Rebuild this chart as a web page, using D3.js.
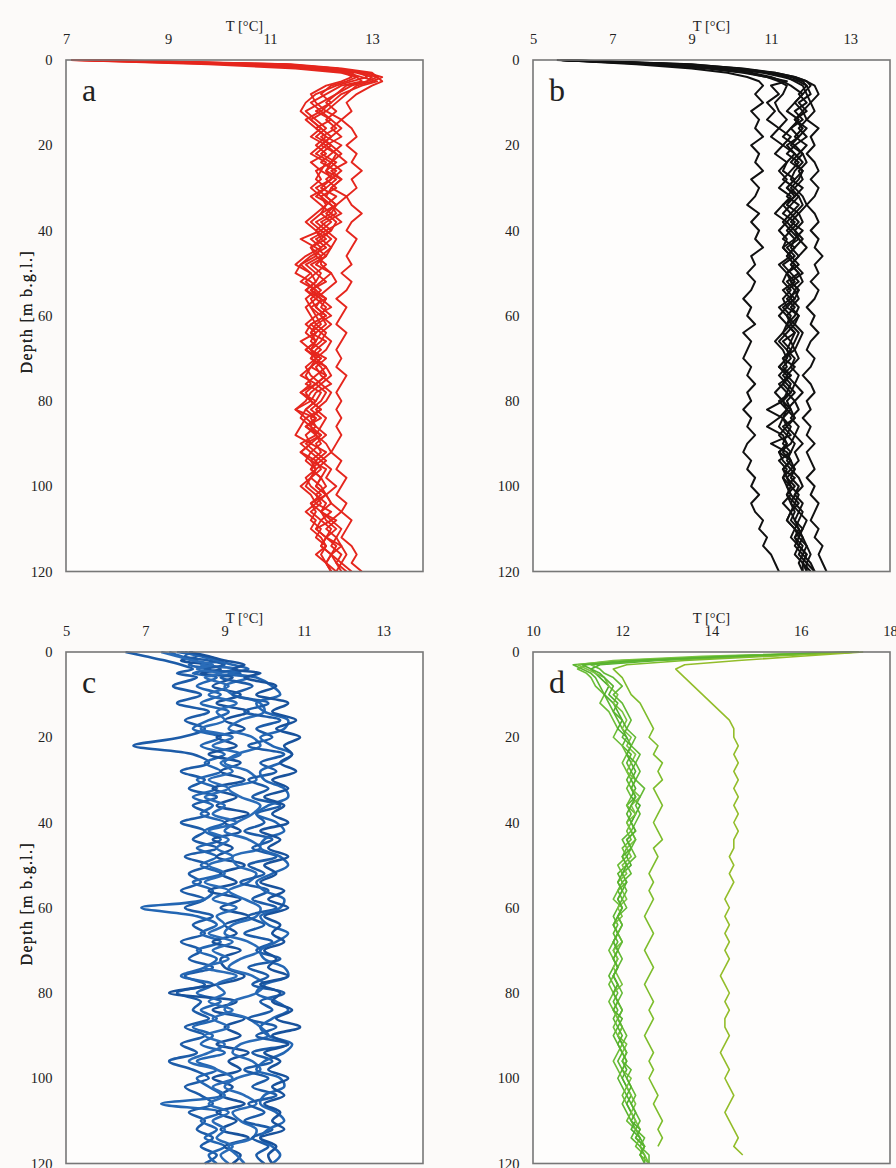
<!DOCTYPE html>
<html>
<head>
<meta charset="utf-8">
<script src="https://cdn.jsdelivr.net/npm/d3@7"></script>
<style>
  html, body { margin: 0; padding: 0; background: #fcfaf9; }
  svg { display: block; }
  text { font-family: "Liberation Serif", "Times New Roman", serif; fill: #222; }
</style>
</head>
<body>
<svg id="chart" width="896" height="1168"></svg>
<script>
// Shared depth grid [m below ground level]
const depths = [0, 1, 2, 3, 4, 5, 6,
  8, 10, 12, 14, 16, 18, 20, 22, 24, 26,
  28, 30, 32, 34, 36, 38, 40, 42, 44, 46,
  48, 50, 52, 54, 56, 58, 60, 62, 64, 66,
  68, 70, 72, 74, 76, 78, 80, 82, 84, 86,
  88, 90, 92, 94, 96, 98, 100, 102, 104, 106,
  108, 110, 112, 114, 116, 118, 120];

const depthTicks = [0, 20, 40, 60, 80, 100, 120];

// Temperature axes [°C]
const domainA = [7, 14];
const domainB = [5, 14];
const domainC = [5, 14];
const domainD = [10, 18];
const ticksA = [7, 9, 11, 13];
const ticksB = [5, 7, 9, 11, 13];
const ticksC = [5, 7, 9, 11, 13];
const ticksD = [10, 12, 14, 16, 18];

// Temperature profiles, one array per log, values at the depth grid
const profilesA = [
  [7.4, 10.8, 12.1, 12.7, 13.0, 12.9, 12.6,
   12.3, 12.0, 11.7, 11.9, 12.1, 11.9, 12.2, 12.0, 12.3, 12.1,
   12.2, 11.9, 12.1, 12.3, 12.0, 11.8, 12.0, 11.6, 11.9, 12.1,
   11.8, 12.0, 11.9, 11.7, 12.0, 11.9, 12.1, 11.8, 12.0, 11.9,
   11.7, 12.0, 11.8, 12.1, 11.9, 11.6, 11.8, 11.5, 11.9, 11.7,
   12.0, 11.8, 12.1, 11.9, 11.8, 12.0, 11.9, 12.1, 11.8, 12.0,
   12.2, 11.9, 12.1, 12.0, 12.2, 12.1, 12.3],
  [7.1, 10.2, 11.8, 12.5, 12.8, 13.1, 12.8,
   12.4, 12.2, 12.0, 12.2, 11.9, 12.1, 12.4, 12.2, 12.0, 12.3,
   12.1, 12.3, 12.0, 12.2, 12.4, 12.1, 11.9, 12.1, 11.8, 12.0,
   11.7, 11.9, 12.1, 11.8, 12.0, 12.2, 11.9, 12.0, 11.8, 12.1,
   11.9, 11.8, 12.1, 11.9, 11.7, 12.0, 11.9, 11.7, 11.9, 11.8,
   12.0, 11.7, 11.9, 12.1, 11.9, 11.8, 12.0, 12.1, 11.9, 12.2,
   12.0, 12.2, 12.1, 12.3, 12.2, 12.4, 12.3],
  [7.6, 11.3, 12.3, 12.8, 12.9, 12.6, 12.3,
   11.9, 11.7, 11.6, 11.8, 12.0, 12.2, 12.0, 11.8, 12.1, 12.0,
   12.3, 12.1, 11.9, 12.2, 12.3, 12.0, 12.2, 11.9, 12.1, 11.8,
   11.6, 11.5, 11.8, 12.0, 11.8, 11.9, 12.1, 11.8, 11.7, 11.9,
   11.8, 12.0, 11.8, 11.6, 11.9, 11.7, 11.8, 12.0, 11.7, 11.6,
   11.5, 11.8, 11.6, 11.9, 12.0, 11.8, 11.7, 11.9, 12.0, 11.8,
   12.0, 11.9, 12.1, 12.0, 12.2, 12.1, 12.2],
  [7.2, 10.5, 11.9, 12.9, 13.2, 13.0, 12.7,
   12.5, 12.3, 12.1, 12.4, 12.2, 12.4, 12.1, 12.3, 12.5, 12.2,
   12.4, 12.2, 12.5, 12.3, 12.1, 12.3, 12.2, 12.0, 12.2, 12.1,
   11.9, 12.2, 12.0, 11.8, 12.1, 12.0, 12.2, 11.9, 12.1, 12.0,
   11.8, 12.1, 11.9, 12.0, 12.2, 11.9, 11.8, 12.0, 11.8, 11.9,
   12.1, 11.9, 12.0, 11.8, 12.1, 12.0, 11.9, 12.1, 12.2, 12.0,
   12.3, 12.1, 12.3, 12.2, 12.4, 12.3, 12.5],
  [7.1, 9.8, 11.5, 12.4, 12.7, 12.8, 12.4,
   12.1, 11.8, 12.0, 11.7, 11.9, 12.1, 11.9, 12.1, 11.8, 12.0,
   11.9, 12.1, 11.8, 12.0, 12.2, 11.9, 12.1, 11.8, 12.0, 11.7,
   11.5, 11.8, 11.6, 11.9, 11.7, 11.8, 11.9, 11.7, 11.9, 11.6,
   11.8, 11.9, 11.7, 11.8, 12.0, 11.8, 11.7, 11.5, 11.7, 11.9,
   11.7, 11.8, 11.6, 11.8, 11.9, 11.7, 11.8, 12.0, 11.8, 11.9,
   11.8, 12.0, 11.9, 12.1, 12.0, 12.1, 12.2],
  [7.5, 11.0, 12.2, 12.6, 12.7, 12.5, 12.2,
   12.0, 12.2, 11.9, 12.2, 12.4, 12.2, 12.0, 12.3, 12.2, 12.4,
   12.2, 12.0, 12.3, 12.1, 12.0, 12.2, 12.0, 12.2, 12.0, 11.9,
   12.1, 11.9, 11.7, 11.9, 12.1, 11.8, 12.0, 12.1, 11.9, 11.8,
   12.0, 11.8, 12.0, 12.1, 11.9, 12.1, 12.0, 11.8, 12.0, 11.7,
   11.9, 12.0, 11.8, 12.0, 11.8, 12.0, 12.1, 11.9, 12.1, 12.0,
   12.1, 12.3, 12.1, 12.4, 12.2, 12.3, 12.4],
  [7.3, 10.9, 12.0, 12.5, 12.6, 12.4, 12.1,
   11.8, 11.9, 12.1, 11.8, 12.0, 11.8, 12.1, 11.9, 12.2, 11.9,
   12.0, 11.8, 12.0, 12.1, 11.9, 11.7, 11.9, 12.0, 11.8, 11.9,
   11.6, 11.8, 11.9, 11.7, 11.9, 11.7, 11.8, 11.9, 11.8, 11.9,
   11.7, 11.9, 11.8, 11.7, 11.8, 11.6, 11.9, 11.7, 11.6, 11.8,
   11.9, 11.6, 11.8, 11.7, 11.9, 11.8, 11.6, 11.8, 11.9, 11.7,
   11.9, 11.8, 12.0, 12.1, 11.9, 12.1, 12.2],
  [7.7, 11.4, 12.4, 13.0, 13.1, 12.9, 12.5,
   12.3, 12.1, 12.3, 12.1, 12.3, 12.0, 12.2, 12.4, 12.2, 12.1,
   12.4, 12.2, 12.1, 12.3, 12.2, 12.4, 12.1, 12.3, 12.2, 12.0,
   12.0, 12.2, 12.3, 12.1, 11.9, 12.1, 12.0, 12.2, 12.0, 12.2,
   12.1, 11.9, 12.1, 12.2, 12.0, 12.2, 12.1, 11.9, 12.1, 12.0,
   11.9, 12.1, 12.2, 12.0, 12.2, 12.1, 12.3, 12.1, 12.2, 12.4,
   12.2, 12.4, 12.3, 12.4, 12.5, 12.4, 12.6],
  [7.5, 11.2, 12.3, 12.8, 13.1, 13.2, 13.0,
   12.7, 12.5, 12.6, 12.4, 12.6, 12.7, 12.5, 12.7, 12.6, 12.8,
   12.6, 12.7, 12.5, 12.6, 12.8, 12.6, 12.5, 12.7, 12.6, 12.5,
   12.6, 12.4, 12.6, 12.5, 12.3, 12.5, 12.4, 12.3, 12.5, 12.4,
   12.3, 12.4, 12.3, 12.5, 12.4, 12.3, 12.4, 12.3, 12.4, 12.3,
   12.4, 12.3, 12.2, 12.4, 12.3, 12.5, 12.4, 12.3, 12.5, 12.4,
   12.6, 12.5, 12.4, 12.6, 12.7, 12.6, 12.8]
];

const profilesB = [
  [5.7, 7.6, 9.0, 9.9, 10.4, 10.7, 10.8,
   10.6, 10.8, 10.5, 10.7, 10.6, 10.8, 10.5, 10.7, 10.6, 10.8,
   10.5, 10.7, 10.6, 10.4, 10.7, 10.5, 10.7, 10.6, 10.8, 10.5,
   10.6, 10.4, 10.6, 10.5, 10.3, 10.5, 10.4, 10.6, 10.3, 10.5,
   10.4, 10.3, 10.5, 10.4, 10.6, 10.4, 10.5, 10.3, 10.5, 10.4,
   10.6, 10.4, 10.3, 10.5, 10.4, 10.6, 10.5, 10.7, 10.5, 10.6,
   10.8, 10.7, 10.9, 10.8, 11.0, 11.1, 11.2],
  [5.7, 8.3, 9.6, 10.5, 11.0, 11.3, 11.5,
   11.8, 11.6, 11.4, 11.7, 11.5, 11.3, 11.6, 11.4, 11.7, 11.5,
   11.3, 11.6, 11.4, 11.7, 11.5, 11.3, 11.5, 11.7, 11.4, 11.6,
   11.3, 11.5, 11.7, 11.4, 11.6, 11.3, 11.5, 11.4, 11.6, 11.3,
   11.5, 11.4, 11.2, 11.5, 11.3, 11.5, 11.2, 11.4, 11.6, 11.3,
   11.5, 11.0, 11.4, 11.5, 11.3, 11.6, 11.4, 11.5, 11.7, 11.5,
   11.6, 11.8, 11.6, 11.7, 11.9, 11.8, 11.9],
  [5.8, 9.0, 10.2, 11.0, 11.5, 11.8, 11.9,
   11.7, 11.9, 11.6, 11.8, 11.5, 11.7, 11.4, 11.6, 11.8, 11.6,
   11.5, 11.8, 11.6, 11.4, 11.7, 11.5, 11.8, 11.6, 11.5, 11.7,
   11.5, 11.7, 11.4, 11.6, 11.5, 11.7, 11.6, 11.4, 11.6, 11.5,
   11.4, 11.6, 11.5, 11.3, 11.5, 11.4, 11.6, 11.4, 11.3, 11.5,
   11.4, 11.6, 11.5, 11.4, 11.6, 11.5, 11.7, 11.6, 11.5, 11.7,
   11.6, 11.7, 11.8, 11.7, 11.9, 11.8, 12.0],
  [5.7, 8.7, 10.0, 10.8, 11.3, 11.7, 11.9,
   12.0, 11.7, 11.9, 11.6, 11.8, 11.6, 11.9, 11.7, 11.5, 11.8,
   11.6, 11.4, 11.7, 11.5, 11.3, 11.6, 11.4, 11.6, 11.3, 11.5,
   11.7, 11.4, 11.6, 11.3, 11.5, 11.2, 11.4, 11.6, 11.4, 11.2,
   11.4, 11.5, 11.3, 11.5, 11.2, 11.4, 11.3, 10.9, 11.3, 11.4,
   11.2, 11.4, 11.3, 11.5, 11.3, 11.4, 11.6, 11.4, 11.5, 11.6,
   11.5, 11.7, 11.6, 11.8, 11.7, 11.9, 11.9],
  [5.6, 8.0, 9.4, 10.3, 10.9, 11.2, 11.4,
   11.3, 11.1, 11.2, 11.4, 11.2, 11.5, 11.3, 11.6, 11.4, 11.3,
   11.6, 11.4, 11.6, 11.3, 11.5, 11.7, 11.5, 11.3, 11.6, 11.4,
   11.6, 11.4, 11.5, 11.7, 11.4, 11.6, 11.4, 11.5, 11.3, 11.5,
   11.6, 11.3, 11.4, 11.2, 11.4, 11.6, 11.4, 11.5, 11.3, 11.2,
   11.4, 11.3, 11.5, 11.2, 11.4, 11.3, 11.5, 11.4, 11.6, 11.5,
   11.4, 11.6, 11.7, 11.6, 11.8, 11.7, 11.8],
  [5.8, 8.5, 9.9, 10.9, 11.4, 11.6, 11.8,
   11.9, 12.0, 11.8, 11.6, 11.9, 11.7, 11.5, 11.8, 11.6, 11.8,
   11.7, 11.5, 11.7, 11.8, 11.6, 11.4, 11.6, 11.8, 11.6, 11.4,
   11.6, 11.8, 11.5, 11.7, 11.6, 11.4, 11.7, 11.5, 11.7, 11.6,
   11.5, 11.3, 11.6, 11.4, 11.6, 11.5, 11.3, 11.5, 11.6, 11.4,
   11.6, 11.5, 11.2, 11.5, 11.6, 11.4, 11.5, 11.7, 11.6, 11.8,
   11.7, 11.6, 11.8, 11.9, 11.8, 12.0, 12.1],
  [5.7, 8.9, 10.3, 11.1, 11.6, 11.9, 12.0,
   11.8, 11.6, 11.8, 11.9, 11.7, 11.9, 11.6, 11.8, 11.9, 11.7,
   11.8, 11.6, 11.8, 11.9, 11.7, 11.8, 11.6, 11.7, 11.9, 11.7,
   11.5, 11.7, 11.8, 11.6, 11.7, 11.5, 11.7, 11.6, 11.8, 11.7,
   11.6, 11.7, 11.5, 11.7, 11.6, 11.8, 11.6, 11.7, 11.5, 11.7,
   11.6, 11.8, 11.6, 11.7, 11.5, 11.7, 11.8, 11.6, 11.8, 11.7,
   11.9, 11.8, 11.7, 11.9, 12.0, 11.9, 12.1],
  [5.7, 8.1, 9.5, 10.4, 10.9, 11.4, 11.0,
   11.2, 10.9, 11.1, 10.9, 11.2, 11.0, 11.3, 11.1, 11.4, 11.2,
   11.4, 11.2, 11.5, 11.3, 11.1, 11.4, 11.2, 11.4, 11.3, 11.5,
   11.2, 11.4, 11.3, 11.5, 11.3, 11.4, 11.2, 11.4, 11.3, 11.1,
   11.3, 11.4, 11.2, 11.4, 11.3, 11.1, 11.3, 11.4, 11.2, 10.9,
   11.3, 11.4, 11.2, 11.3, 11.5, 11.3, 11.4, 11.5, 11.3, 11.5,
   11.4, 11.6, 11.5, 11.7, 11.6, 11.8, 11.8],
  [5.7, 8.6, 10.1, 11.1, 11.6, 11.9, 12.1,
   12.2, 12.0, 12.1, 11.9, 12.2, 12.0, 12.1, 11.9, 12.1, 12.2,
   12.0, 12.2, 12.1, 11.9, 12.1, 12.2, 12.0, 12.2, 12.1, 12.3,
   12.1, 12.2, 12.0, 12.2, 12.1, 11.9, 12.1, 12.0, 12.2, 12.0,
   11.9, 12.1, 12.0, 11.8, 12.0, 12.1, 11.9, 12.0, 11.8, 12.0,
   11.9, 12.1, 11.9, 12.0, 12.1, 11.9, 12.1, 12.0, 12.2, 12.1,
   12.0, 12.2, 12.1, 12.3, 12.2, 12.3, 12.4]
];

const profilesC = [
  [6.5, 7.0, 7.5, 7.9, 8.2, 7.8, 8.3,
   7.7, 8.4, 7.8, 8.6, 8.0, 8.5, 7.9, 6.7, 8.2, 8.6,
   7.9, 8.5, 8.1, 8.8, 8.2, 8.6, 7.9, 8.5, 8.2, 8.8,
   8.0, 8.6, 8.1, 8.4, 7.9, 8.5, 8.0, 8.7, 8.2, 8.5,
   7.9, 8.4, 8.1, 8.7, 8.0, 8.5, 7.8, 8.4, 8.2, 8.6,
   8.0, 8.5, 7.9, 8.3, 7.6, 8.2, 8.6, 8.0, 8.4, 8.7,
   8.1, 8.5, 8.3, 8.7, 8.4, 8.8, 8.5],
  [7.6, 7.9, 8.3, 8.1, 8.6, 8.2, 8.8,
   8.3, 8.9, 8.4, 9.1, 8.6, 8.2, 8.9, 8.4, 9.0, 8.5,
   8.9, 8.3, 8.8, 8.2, 8.7, 8.4, 9.0, 8.5, 8.9, 8.3,
   8.8, 8.4, 8.9, 8.2, 8.7, 8.5, 6.9, 8.3, 8.8, 8.4,
   8.9, 8.3, 8.8, 8.5, 7.9, 8.7, 8.3, 8.9, 8.4, 8.8,
   8.2, 8.7, 8.4, 9.0, 8.3, 8.8, 8.3, 8.6, 8.9, 7.4,
   8.9, 8.4, 8.8, 8.5, 9.0, 8.6, 8.8],
  [8.0, 8.3, 7.9, 8.6, 8.9, 8.4, 9.2,
   8.7, 9.4, 8.8, 9.6, 9.0, 9.5, 8.8, 9.3, 8.6, 9.4,
   8.9, 9.5, 8.7, 9.3, 8.8, 9.6, 9.0, 9.4, 8.7, 9.2,
   8.8, 9.5, 8.9, 9.3, 8.6, 9.4, 8.9, 9.6, 9.0, 9.3,
   8.7, 9.4, 8.9, 9.0, 9.5, 8.8, 7.6, 9.3, 8.7, 9.5,
   9.0, 9.4, 8.8, 9.6, 9.1, 9.4, 8.7, 9.2, 8.9, 9.5,
   8.8, 9.3, 8.9, 9.6, 9.0, 9.4, 9.2],
  [7.8, 8.5, 8.9, 8.4, 9.3, 8.8, 9.6,
   9.0, 9.2, 9.9, 10.0, 9.4, 9.1, 9.7, 9.9, 9.3, 9.0,
   9.6, 9.8, 9.1, 9.4, 9.9, 9.7, 9.3, 9.0, 9.6, 9.9,
   9.2, 9.3, 9.8, 9.6, 9.1, 9.5, 9.9, 9.8, 9.2, 9.0,
   9.6, 9.9, 9.4, 9.1, 9.7, 10.0, 9.8, 9.2, 9.0, 9.6,
   9.9, 10.1, 9.4, 9.2, 9.7, 9.9, 9.3, 9.0, 9.5, 9.8,
   9.2, 9.4, 9.8, 9.7, 9.1, 9.3, 9.5],
  [8.2, 8.0, 8.6, 9.0, 8.5, 9.4, 8.9,
   9.7, 9.2, 10.1, 9.5, 10.4, 9.8, 10.2, 9.6, 10.5, 9.9,
   10.3, 9.6, 10.1, 9.7, 10.4, 9.8, 10.0, 9.5, 10.2, 9.7,
   10.3, 9.6, 10.0, 9.4, 10.1, 9.7, 10.3, 9.6, 10.0, 9.5,
   10.2, 9.8, 10.4, 9.6, 10.1, 9.7, 10.5, 9.9, 10.2, 9.6,
   10.3, 9.8, 10.6, 9.7, 10.2, 9.5, 10.1, 9.7, 10.3, 9.6,
   10.0, 9.5, 10.2, 9.7, 10.1, 9.8, 10.0],
  [7.9, 8.4, 8.8, 9.2, 9.6, 9.1, 9.8,
   10.2, 10.4, 9.8, 10.0, 10.6, 10.5, 9.9, 10.2, 10.7, 10.4,
   9.9, 10.0, 10.5, 10.6, 10.1, 9.8, 10.3, 10.5, 10.0, 9.9,
   10.4, 10.6, 10.2, 9.8, 10.0, 10.5, 10.4, 9.9, 10.1, 10.6,
   10.3, 9.9, 10.0, 10.5, 10.6, 10.0, 9.8, 10.3, 10.6, 10.2,
   9.9, 10.1, 10.7, 10.5, 10.0, 9.8, 10.4, 10.5, 10.0, 9.9,
   10.3, 10.5, 10.1, 9.9, 10.2, 10.4, 10.2],
  [8.1, 8.6, 9.0, 9.5, 9.2, 9.9, 9.5,
   10.3, 9.8, 10.6, 10.2, 10.8, 10.3, 10.9, 10.5, 10.7, 10.4,
   10.8, 10.2, 10.6, 10.0, 10.5, 10.2, 10.6, 9.9, 10.4, 10.1,
   10.6, 10.0, 10.3, 9.9, 10.5, 10.1, 10.6, 10.0, 10.4, 10.2,
   10.5, 10.0, 10.3, 10.1, 10.6, 9.9, 10.4, 10.2, 10.7, 10.3,
   10.9, 10.2, 10.6, 10.0, 10.4, 10.1, 10.6, 10.2, 10.5, 10.0,
   10.4, 10.2, 10.5, 9.9, 10.3, 10.1, 10.2],
  [7.4, 7.8, 8.2, 8.7, 8.3, 8.9, 8.5,
   9.1, 8.6, 9.3, 8.8, 9.0, 8.4, 9.2, 8.7, 9.4, 8.9,
   9.2, 8.6, 9.1, 8.5, 9.0, 8.7, 9.3, 8.6, 9.1, 8.8,
   9.2, 8.6, 9.0, 8.5, 9.1, 8.7, 9.3, 8.8, 9.0, 8.6,
   9.2, 8.7, 9.1, 8.5, 9.3, 8.8, 9.0, 8.6, 9.2, 8.7,
   9.1, 8.5, 9.0, 8.6, 8.1, 8.8, 9.2, 8.7, 9.0, 8.6,
   9.1, 8.7, 9.0, 8.8, 9.2, 8.9, 9.1]
];

const profilesD = [
  [17.3, 14.2, 12.0, 10.9, 11.1, 11.3, 11.4,
   11.5, 11.6, 11.7, 11.8, 11.9, 12.0, 12.1, 12.0, 12.2, 12.1,
   12.2, 12.1, 12.2, 12.3, 12.1, 12.2, 12.1, 12.2, 12.0, 12.1,
   12.0, 12.1, 11.9, 12.0, 11.9, 12.0, 11.9, 11.8, 11.9, 11.8,
   11.9, 11.8, 11.9, 11.8, 11.7, 11.8, 11.9, 11.8, 11.9, 11.8,
   11.9, 11.8, 11.9, 12.0, 11.9, 12.0, 11.9, 12.0, 12.1, 12.0,
   12.1, 12.2, 12.3, 12.2, 12.4, 12.5, 12.5],
  [17.2, 14.6, 12.4, 11.2, 11.0, 11.2, 11.3,
   11.4, 11.6, 11.5, 11.7, 11.8, 11.9, 11.8, 12.0, 12.1, 12.0,
   12.1, 12.2, 12.1, 12.2, 12.1, 12.3, 12.2, 12.1, 12.2, 12.0,
   12.1, 11.9, 12.0, 12.1, 11.9, 11.8, 12.0, 11.9, 11.8, 11.9,
   11.8, 11.7, 11.8, 11.9, 11.8, 11.7, 11.8, 11.7, 11.8, 11.9,
   11.8, 11.9, 12.0, 11.9, 11.8, 11.9, 12.0, 12.1, 12.0, 12.1,
   12.2, 12.1, 12.3, 12.4, 12.3, 12.5, 12.6],
  [17.3, 15.0, 12.8, 11.5, 11.3, 11.4, 11.5,
   11.7, 11.6, 11.8, 11.9, 12.0, 11.9, 12.1, 12.2, 12.1, 12.2,
   12.3, 12.2, 12.3, 12.2, 12.4, 12.3, 12.2, 12.3, 12.1, 12.2,
   12.1, 12.2, 12.0, 12.1, 12.0, 11.9, 12.0, 11.9, 12.0, 11.9,
   11.8, 11.9, 11.8, 11.9, 11.8, 11.9, 11.8, 11.9, 12.0, 11.9,
   12.0, 11.9, 12.0, 12.1, 12.0, 12.1, 12.0, 12.1, 12.2, 12.1,
   12.2, 12.3, 12.2, 12.4, 12.5, 12.4, 12.6],
  [17.1, 13.8, 11.8, 11.0, 11.2, 11.4, 11.6,
   11.7, 11.9, 11.8, 12.0, 12.1, 12.0, 12.2, 12.1, 12.3, 12.2,
   12.1, 12.3, 12.2, 12.4, 12.2, 12.3, 12.1, 12.2, 12.3, 12.1,
   12.2, 12.0, 12.1, 11.9, 12.0, 12.1, 11.9, 12.0, 11.8, 11.9,
   12.0, 11.8, 11.9, 11.8, 11.9, 12.0, 11.8, 11.9, 11.8, 11.9,
   12.0, 11.9, 12.1, 12.0, 12.1, 12.0, 12.2, 12.1, 12.2, 12.3,
   12.2, 12.3, 12.4, 12.3, 12.5, 12.4, 12.6],
  [17.3, 14.9, 12.6, 11.3, 11.5, 11.6, 11.8,
   12.0, 11.8, 12.0, 12.1, 12.2, 12.1, 12.3, 12.2, 12.4, 12.3,
   12.4, 12.3, 12.5, 12.4, 12.3, 12.4, 12.3, 12.2, 12.3, 12.2,
   12.3, 12.1, 12.2, 12.0, 12.1, 12.0, 12.1, 11.9, 12.0, 11.9,
   12.0, 11.9, 12.0, 11.9, 11.8, 11.9, 12.0, 11.9, 12.0, 11.9,
   12.0, 12.1, 12.0, 12.1, 12.0, 12.2, 12.1, 12.2, 12.3, 12.2,
   12.3, 12.4, 12.3, 12.5, 12.4, 12.6, 12.6],
  [17.2, 14.4, 12.3, 11.1, 11.3, 11.5, 11.6,
   11.8, 11.7, 11.9, 11.8, 12.0, 12.1, 12.0, 12.2, 12.1, 12.3,
   12.2, 12.3, 12.2, 12.3, 12.2, 12.1, 12.2, 12.3, 12.1, 12.2,
   12.0, 12.1, 12.0, 11.9, 12.0, 11.9, 12.0, 11.9, 11.8, 11.9,
   11.8, 11.9, 11.8, 11.9, 11.8, 11.9, 11.8, 11.9, 11.8, 12.0,
   11.9, 12.0, 11.9, 12.0, 12.1, 12.0, 12.1, 12.2, 12.1, 12.2,
   12.3, 12.2, 12.4, 12.3, 12.5, 12.4, 12.5],
  [17.3, 15.3, 13.4, 12.1, 11.8, 11.9, 12.0,
   12.1, 12.2, 12.4, 12.5, 12.6, 12.7, 12.6, 12.8, 12.7, 12.9,
   12.8, 12.9, 12.7, 12.8, 12.9, 12.8, 12.7, 12.8, 12.9, 12.7,
   12.8, 12.7, 12.6, 12.7, 12.6, 12.7, 12.6, 12.5, 12.6, 12.7,
   12.6, 12.5, 12.6, 12.7, 12.6, 12.5, 12.6, 12.7, 12.6, 12.7,
   12.6, 12.5, 12.6, 12.7, 12.6, 12.7, 12.6, 12.7, 12.8, 12.7,
   12.8, 12.9, 12.8, 12.9, 12.8],
  [17.4, 16.0, 14.6, 13.4, 13.2, 13.3, 13.4,
   13.6, 13.8, 14.0, 14.2, 14.4, 14.5, 14.5, 14.6, 14.5, 14.6,
   14.5, 14.6, 14.5, 14.6, 14.5, 14.6, 14.5, 14.6, 14.5, 14.5,
   14.4, 14.5, 14.4, 14.5, 14.4, 14.3, 14.4, 14.3, 14.4, 14.3,
   14.4, 14.3, 14.4, 14.3, 14.2, 14.3, 14.4, 14.3, 14.4, 14.3,
   14.3, 14.4, 14.3, 14.2, 14.3, 14.4, 14.3, 14.4, 14.5, 14.4,
   14.3, 14.4, 14.5, 14.6, 14.5, 14.7]
];

const panelLetters = ["a", "b", "c", "d"];
const axisTitle = "T [°C]";
const depthTitle = "Depth [m b.g.l.]";

// Layout and styling of the four panels
const W = 357, H = 511.5;
const panels = [
  { letter: panelLetters[0], profiles: profilesA, domain: domainA, ticks: ticksA, left: 66, top: 60,
    colors: ["#e5261d"], width: 1.9, curve: d3.curveLinear },
  { letter: panelLetters[1], profiles: profilesB, domain: domainB, ticks: ticksB, left: 533, top: 60,
    colors: ["#111111"], width: 2.0, curve: d3.curveLinear },
  { letter: panelLetters[2], profiles: profilesC, domain: domainC, ticks: ticksC, left: 66, top: 652,
    colors: ["#1d5ca8", "#2366b3", "#18529c", "#2a6cb8"], width: 2.6, curve: d3.curveCatmullRom.alpha(0.5) },
  { letter: panelLetters[3], profiles: profilesD, domain: domainD, ticks: ticksD, left: 533, top: 652,
    colors: ["#5cb531", "#6cbd38", "#4fae2d", "#79c240", "#63b935", "#58b22f", "#7dbd2c", "#93bd2a"], width: 1.6, curve: d3.curveLinear }
];

const svg = d3.select("#chart");

panels.forEach((p, pi) => {
  const g = svg.append("g").attr("transform", `translate(${p.left},${p.top})`);
  const x = d3.scaleLinear().domain(p.domain).range([0, W]);
  const y = d3.scaleLinear().domain([0, 120]).range([0, H]);

  g.append("rect").attr("width", W).attr("height", H).attr("fill", "#fefdfc");

  const clipId = "clip" + pi;
  g.append("clipPath").attr("id", clipId)
    .append("rect").attr("x", -2).attr("y", -1).attr("width", W + 4).attr("height", H + 2);

  const line = d3.line()
    .x(d => x(d[1]))
    .y(d => y(d[0]))
    .curve(p.curve);

  g.append("g").attr("clip-path", `url(#${clipId})`)
    .selectAll("path")
    .data(p.profiles)
    .join("path")
    .attr("d", vals => line(vals.map((v, i) => [depths[i], v])))
    .attr("fill", "none")
    .attr("stroke", (d, i) => p.colors[i % p.colors.length])
    .attr("stroke-width", p.width)
    .attr("stroke-linejoin", "round");

  // frame
  g.append("rect").attr("width", W).attr("height", H)
    .attr("fill", "none").attr("stroke", "#777").attr("stroke-width", 1.6);

  const xAxis = g.append("g")
    .call(d3.axisTop(x).tickValues(p.ticks).tickSize(0).tickPadding(16.5).tickFormat(d3.format("d")));
  xAxis.select(".domain").remove();
  xAxis.selectAll("text").attr("font-size", 14.5).attr("font-family", null).attr("fill", "#222");

  const yAxis = g.append("g")
    .call(d3.axisLeft(y).tickValues(depthTicks).tickSize(0).tickPadding(13.5).tickFormat(d3.format("d")));
  yAxis.select(".domain").remove();
  yAxis.selectAll("text").attr("font-size", 14.5).attr("font-family", null).attr("fill", "#222");

  g.append("text")
    .attr("x", W / 2).attr("y", -29)
    .attr("text-anchor", "middle")
    .attr("font-size", 14.5)
    .text(axisTitle);

  g.append("text")
    .attr("transform", `translate(${-(p.left - 32)},${H / 2 - 4}) rotate(-90)`)
    .attr("text-anchor", "middle")
    .attr("font-size", 16)
    .attr("letter-spacing", 1.3)
    .text(depthTitle);

  g.append("text")
    .attr("x", 16).attr("y", 41)
    .attr("font-size", 32)
    .text(p.letter);
});
</script>
</body>
</html>
